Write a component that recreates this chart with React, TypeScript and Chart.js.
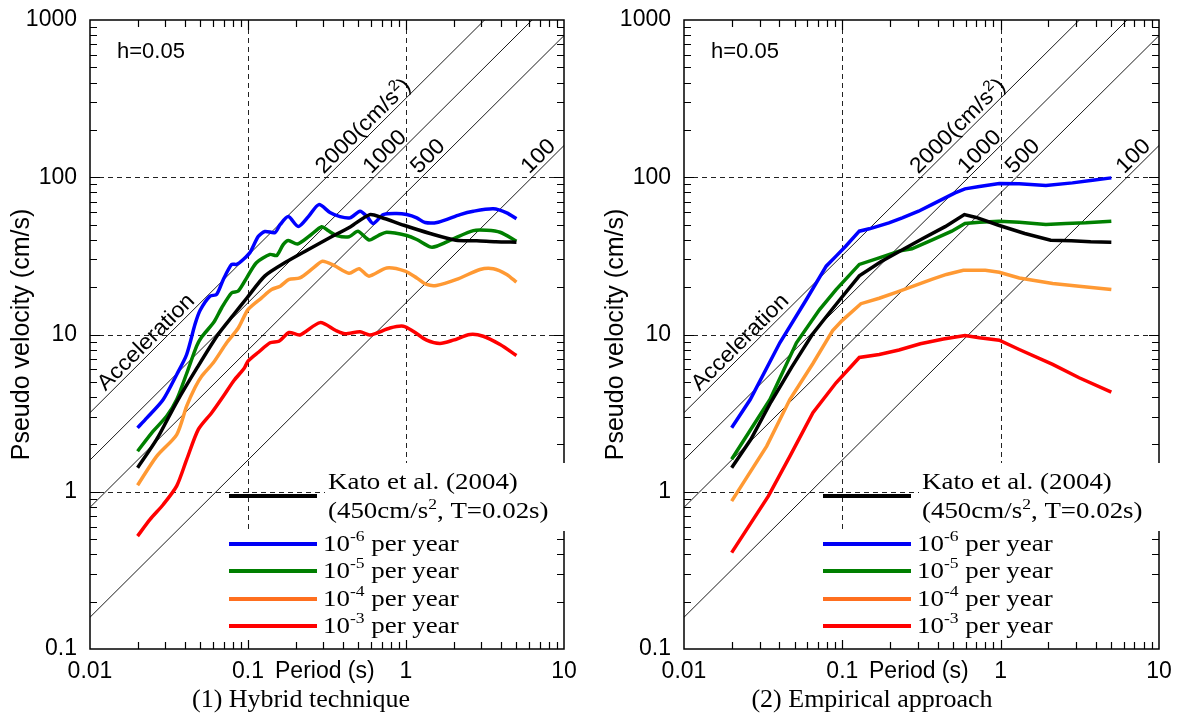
import React, { useEffect, useRef } from "react";
import { Chart, registerables } from "chart.js";
Chart.register(...registerables);

// ---------- axes ----------
const periodTicks = [0.01, 0.1, 1, 10];
const velocityTicks = [0.1, 1, 10, 100, 1000];
const accelerationLevels = [2000, 1000, 500, 100];

// ---------- Kato et al. (2004) (same in both panels) ----------
const katoPeriods = [0.02, 0.0264, 0.0354, 0.0479, 0.0646, 0.0807, 0.0981, 0.128, 0.175, 0.238, 0.318, 0.446, 0.59, 0.70, 0.97, 1.42, 2.07, 2.8, 3.7, 5.0];
const katoVelocities = [1.42, 2.15, 3.72, 6.2, 10.0, 13.3, 17.0, 23.6, 29.0, 34.5, 40.5, 48.5, 57.9, 55.5, 49.5, 43.9, 39.8, 39.5, 38.9, 38.6];

// ---------- (1) Hybrid technique ----------
const hybrid6Periods = [0.02, 0.0229, 0.029, 0.0354, 0.0409, 0.0462, 0.0497, 0.0574, 0.0633, 0.0698, 0.0788, 0.0848, 0.0933, 0.103, 0.116, 0.128, 0.148, 0.160, 0.180, 0.208, 0.241, 0.281, 0.330, 0.382, 0.442, 0.512, 0.567, 0.621, 0.718, 0.873, 1.01, 1.17, 1.32, 1.60, 2.20, 2.67, 3.57, 4.34, 5.0];
const hybrid6Velocities = [2.55, 2.95, 3.85, 5.57, 7.46, 11.6, 14.2, 17.5, 18.0, 22.4, 27.9, 27.9, 30.0, 33.2, 42.0, 45.2, 44.5, 50.1, 56.2, 48.6, 56.2, 67.0, 59.7, 56.2, 55.2, 60.8, 56.2, 50.8, 57.9, 58.8, 57.9, 55.2, 51.5, 51.8, 57.9, 60.8, 63.0, 59.4, 54.4];

const hybrid5Periods = [0.02, 0.0246, 0.0306, 0.0354, 0.0409, 0.0473, 0.0509, 0.0609, 0.0682, 0.0788, 0.0868, 0.0981, 0.113, 0.138, 0.152, 0.167, 0.180, 0.206, 0.247, 0.293, 0.321, 0.364, 0.436, 0.497, 0.583, 0.668, 0.755, 1.01, 1.17, 1.42, 1.56, 1.99, 2.67, 3.24, 3.94, 5.0];
const hybrid5Velocities = [1.81, 2.37, 3.03, 3.86, 5.65, 8.43, 9.64, 12.0, 14.8, 18.4, 18.9, 22.9, 28.6, 32.3, 31.8, 37.3, 39.6, 37.6, 42.6, 48.4, 45.8, 42.6, 41.8, 45.4, 39.9, 42.6, 44.7, 42.6, 40.2, 36.1, 36.4, 40.6, 45.8, 46.0, 44.7, 39.2];

const hybrid4Periods = [0.02, 0.0264, 0.0354, 0.0409, 0.0462, 0.0509, 0.0603, 0.0733, 0.0868, 0.100, 0.122, 0.141, 0.160, 0.182, 0.213, 0.259, 0.296, 0.350, 0.436, 0.504, 0.583, 0.755, 0.986, 1.17, 1.35, 1.56, 2.09, 2.94, 3.57, 4.34, 5.0];
const hybrid4Velocities = [1.10, 1.68, 2.31, 3.50, 4.60, 5.43, 6.61, 8.86, 11.0, 14.4, 17.1, 19.3, 20.3, 22.4, 22.9, 26.5, 29.2, 27.5, 24.5, 26.2, 23.5, 26.5, 25.3, 22.9, 20.8, 20.5, 22.4, 25.9, 26.2, 24.1, 21.5];

const hybrid3Periods = [0.02, 0.0240, 0.0291, 0.0354, 0.0409, 0.0485, 0.0589, 0.0698, 0.0815, 0.0944, 0.100, 0.117, 0.138, 0.157, 0.182, 0.213, 0.286, 0.360, 0.411, 0.512, 0.592, 0.792, 0.962, 1.11, 1.35, 1.64, 1.99, 2.54, 3.08, 3.94, 5.0];
const hybrid3Velocities = [0.522, 0.667, 0.830, 1.09, 1.60, 2.49, 3.18, 4.05, 5.10, 6.08, 6.77, 7.74, 8.86, 9.06, 10.3, 9.93, 11.9, 10.6, 10.1, 10.4, 9.93, 11.0, 11.3, 10.5, 9.20, 8.77, 9.20, 10.0, 9.75, 8.63, 7.35];

// ---------- (2) Empirical approach ----------
const empirical6Periods = [0.02, 0.0262, 0.0403, 0.0593, 0.0791, 0.0913, 0.105, 0.128, 0.148, 0.197, 0.239, 0.303, 0.367, 0.446, 0.515, 0.595, 0.734, 0.98, 1.31, 1.93, 2.84, 3.80, 5.0];
const empirical6Velocities = [2.55, 3.86, 8.86, 16.7, 27.2, 31.5, 36.4, 45.4, 47.0, 51.3, 55.2, 60.8, 67.0, 73.9, 79.6, 84.4, 87.3, 91.2, 90.8, 88.5, 92.1, 95.7, 99.1];

const empirical5Periods = [0.02, 0.0349, 0.0513, 0.0718, 0.0913, 0.128, 0.171, 0.228, 0.275, 0.367, 0.491, 0.595, 0.734, 0.98, 1.31, 1.93, 2.58, 3.45, 5.0];
const empirical5Velocities = [1.61, 3.86, 8.86, 14.4, 19.3, 27.9, 30.7, 33.9, 35.1, 39.8, 45.4, 50.8, 51.8, 52.5, 51.8, 50.1, 50.8, 51.3, 52.5];

const empirical4Periods = [0.02, 0.0333, 0.0466, 0.0652, 0.0869, 0.100, 0.131, 0.171, 0.221, 0.289, 0.367, 0.454, 0.581, 0.80, 0.98, 1.31, 2.13, 3.13, 5.0];
const empirical4Velocities = [0.871, 1.95, 3.86, 6.54, 10.6, 12.3, 15.7, 17.0, 18.6, 20.5, 22.4, 24.1, 25.6, 25.6, 24.9, 22.9, 21.1, 20.3, 19.3];

const empirical3Periods = [0.02, 0.0341, 0.0466, 0.0652, 0.0913, 0.128, 0.171, 0.228, 0.311, 0.435, 0.595, 0.734, 0.98, 1.31, 2.13, 3.13, 5.0];
const empirical3Velocities = [0.41, 0.938, 1.68, 3.18, 4.93, 7.14, 7.46, 7.97, 8.74, 9.36, 9.86, 9.53, 9.20, 8.03, 6.45, 5.31, 4.30];

// ---------- styling ----------
const curveColors = ["#000000", "#0000ff", "#008000", "#ff9933", "#ff0000"];
const legendColors = ["#000000", "#0000f5", "#007f00", "#ff6f1f", "#ff0000"];
const legendExponents = ["-6", "-5", "-4", "-3"];
const SANS = '"Liberation Sans", Arial, Helvetica, sans-serif';
const SERIF = '"Liberation Serif", "Times New Roman", serif';

type Seg = { t: string; sup?: boolean };

function drawRich(ctx: CanvasRenderingContext2D, segs: Seg[], x: number, y: number, size: number, family: string, sx = 1) {
  ctx.save();
  ctx.translate(x, y);
  ctx.scale(sx, 1);
  ctx.textAlign = "left";
  ctx.textBaseline = "alphabetic";
  let cx = 0;
  for (const s of segs) {
    const fs = s.sup ? Math.round(size * 0.66) : size;
    ctx.font = `${fs}px ${family}`;
    ctx.fillText(s.t, cx, s.sup ? -size * 0.4 : 0);
    cx += ctx.measureText(s.t).width;
  }
  ctx.restore();
}

function makeAnnotations(caption: string, captionX: number) {
  return {
    id: "annotations",
    beforeDatasetsDraw(chart: any) {
      const { ctx, chartArea: a, scales } = chart;
      const xs = scales.x;
      const ys = scales.y;
      ctx.save();
      ctx.strokeStyle = "#222";
      ctx.lineWidth = 1;
      ctx.setLineDash([5, 4]);
      for (const v of [0.1, 1]) {
        const px = Math.round(xs.getPixelForValue(v)) + 0.5;
        ctx.beginPath(); ctx.moveTo(px, a.top); ctx.lineTo(px, a.bottom); ctx.stroke();
      }
      for (const v of [1, 10, 100]) {
        const py = Math.round(ys.getPixelForValue(v)) + 0.5;
        ctx.beginPath(); ctx.moveTo(a.left, py); ctx.lineTo(a.right, py); ctx.stroke();
      }
      ctx.setLineDash([]);
      ctx.strokeStyle = "#000";
      ctx.lineWidth = 1.2;
      for (let d = 0.01; d < 10; d *= 10) {
        for (let m = 1; m <= 9; m++) {
          const v = d * m;
          if (v <= 0.0100001 || v >= 9.9999) continue;
          const len = m === 1 ? 10 : 7;
          const px = Math.round(xs.getPixelForValue(v)) + 0.5;
          ctx.beginPath();
          ctx.moveTo(px, a.bottom); ctx.lineTo(px, a.bottom - len);
          ctx.moveTo(px, a.top); ctx.lineTo(px, a.top + len);
          ctx.stroke();
        }
      }
      for (let d = 0.1; d < 1000; d *= 10) {
        for (let m = 1; m <= 9; m++) {
          const v = d * m;
          if (v <= 0.100001 || v >= 999.99) continue;
          const len = m === 1 ? 10 : 7;
          const py = Math.round(ys.getPixelForValue(v)) + 0.5;
          ctx.beginPath();
          ctx.moveTo(a.left, py); ctx.lineTo(a.left + len, py);
          ctx.moveTo(a.right, py); ctx.lineTo(a.right - len, py);
          ctx.stroke();
        }
      }
      ctx.lineWidth = 1.5;
      ctx.strokeRect(a.left, a.top, a.right - a.left, a.bottom - a.top);
      ctx.restore();
    },
    afterDatasetsDraw(chart: any) {
      const { ctx, chartArea: a, scales } = chart;
      const xs = scales.x;
      const ys = scales.y;
      ctx.save();
      ctx.fillStyle = "#000";

      drawRich(ctx, [{ t: "h=0.05" }], a.left + 27, a.top + 38, 22, SANS);

      const lineLabel = (acc: number, T: number, segs: Seg[], back: number, perp: number) => {
        const p1x = xs.getPixelForValue(T);
        const p1y = ys.getPixelForValue((acc * T) / (2 * Math.PI));
        const p2x = xs.getPixelForValue(T * 2);
        const p2y = ys.getPixelForValue((acc * T * 2) / (2 * Math.PI));
        const th = Math.atan2(p2y - p1y, p2x - p1x);
        const ux = Math.cos(th), uy = Math.sin(th);
        const nx = Math.sin(th), ny = -Math.cos(th);
        const ax = p1x - back * ux + perp * nx;
        const ay = p1y - back * uy + perp * ny;
        ctx.save();
        ctx.translate(ax, ay);
        ctx.rotate(th);
        drawRich(ctx, segs, 0, 0, 22, SANS, 1.05);
        ctx.restore();
      };
      lineLabel(2000, 0.0128, [{ t: "Acceleration" }], -2, 4);
      const labelTexts: Seg[][] = [
        [{ t: "2000(cm/s" }, { t: "2", sup: true }, { t: ")" }],
        [{ t: "1000" }],
        [{ t: "500" }],
        [{ t: "100" }],
      ];
      accelerationLevels.forEach((acc, i) => {
        const T = (100 * 2 * Math.PI) / acc;
        lineLabel(acc, T, labelTexts[i], 0, 4);
      });

      ctx.save();
      ctx.translate(a.left - 68, (a.top + a.bottom) / 2);
      ctx.rotate(-Math.PI / 2);
      ctx.font = `25px ${SANS}`;
      ctx.textAlign = "center";
      ctx.textBaseline = "middle";
      ctx.fillText("Pseudo velocity (cm/s)", 0, 0);
      ctx.restore();

      ctx.font = `23px ${SANS}`;
      ctx.textAlign = "left";
      ctx.textBaseline = "middle";
      ctx.fillText("Period (s)", a.left + 185, a.bottom + 22.5);

      ctx.font = `26px ${SERIF}`;
      ctx.textAlign = "center";
      ctx.textBaseline = "alphabetic";
      ctx.fillText(caption, captionX, a.bottom + 58);

      // legend backgrounds
      const T0 = a.top;
      ctx.fillStyle = "#fff";
      ctx.fillRect(a.left + 235, T0 + 443, a.right + 4 - (a.left + 235), 68);
      ctx.fillRect(a.left + 134, T0 + 511, 240, 109);

      const rowsY = [476, 524, 551, 579, 606];
      ctx.lineWidth = 4;
      ctx.lineCap = "butt";
      rowsY.forEach((ry, i) => {
        ctx.strokeStyle = legendColors[i];
        ctx.beginPath();
        ctx.moveTo(a.left + 139, T0 + ry);
        ctx.lineTo(a.left + 227, T0 + ry);
        ctx.stroke();
      });
      ctx.fillStyle = "#000";
      drawRich(ctx, [{ t: "Kato et al. (2004)" }], a.left + 238, T0 + 469, 23, SERIF, 1.17);
      drawRich(ctx, [{ t: "(450cm/s" }, { t: "2", sup: true }, { t: ", T=0.02s)" }], a.left + 238, T0 + 498, 23, SERIF, 1.17);
      legendExponents.forEach((e, i) => {
        drawRich(ctx, [{ t: "10" }, { t: e, sup: true }, { t: " per year" }], a.left + 233, T0 + rowsY[i + 1] + 6.5, 23, SERIF, 1.17);
      });
      ctx.restore();
    },
  };
}

type PanelProps = {
  left: number;
  width: number;
  rightPad: number;
  caption: string;
  captionX: number;
  periods: number[][];
  values: number[][];
  tension: number;
};

function Panel({ left, width, rightPad, caption, captionX, periods, values, tension }: PanelProps) {
  const ref = useRef<HTMLCanvasElement | null>(null);
  useEffect(() => {
    if (!ref.current) return;
    const curves = periods.map((ps, i) => ({
      data: ps.map((p, j) => ({ x: p, y: values[i][j] })),
      borderColor: curveColors[i],
      backgroundColor: curveColors[i],
      borderWidth: 3.5,
      pointRadius: 0,
      tension,
      fill: false,
    }));
    const diagonals = accelerationLevels.map((acc) => ({
      data: [0.01, 10].map((T) => ({ x: T, y: (acc * T) / (2 * Math.PI) })),
      borderColor: "#000",
      borderWidth: 0.9,
      pointRadius: 0,
      tension: 0,
      fill: false,
    }));
    const tickFont = { family: SANS, size: 23 };
    const chart = new Chart(ref.current, {
      type: "line",
      data: { datasets: [...curves, ...diagonals] as any },
      options: {
        animation: false,
        responsive: false,
        devicePixelRatio: 1,
        layout: { padding: { left: 0, top: 20, right: rightPad, bottom: 0 } },
        plugins: { legend: { display: false }, tooltip: { enabled: false }, title: { display: false } },
        scales: {
          x: {
            type: "logarithmic",
            position: "bottom",
            min: 0.01,
            max: 10,
            grid: { display: false, drawTicks: false },
            border: { display: false },
            ticks: {
              autoSkip: false,
              maxRotation: 0,
              padding: 9,
              color: "#000",
              font: tickFont,
              callback: (v: any) => (periodTicks.includes(Number(v)) ? String(v) : ""),
            },
            afterBuildTicks: (s: any) => {
              s.ticks = periodTicks.map((v) => ({ value: v }));
            },
            afterFit: (s: any) => {
              s.height = 68;
              s.paddingLeft = 0;
              s.paddingRight = 0;
            },
          },
          y: {
            type: "logarithmic",
            position: "left",
            min: 0.1,
            max: 1000,
            grid: { display: false, drawTicks: false },
            border: { display: false },
            ticks: {
              autoSkip: false,
              padding: 13,
              color: "#000",
              font: tickFont,
              callback: (v: any) => (velocityTicks.includes(Number(v)) ? String(v) : ""),
            },
            afterBuildTicks: (s: any) => {
              s.ticks = velocityTicks.map((v) => ({ value: v }));
            },
            afterFit: (s: any) => {
              s.width = 90;
              s.paddingTop = 0;
              s.paddingBottom = 0;
            },
          },
        },
      } as any,
      plugins: [makeAnnotations(caption, captionX)],
    });
    return () => chart.destroy();
  }, []);
  return (
    <canvas
      ref={ref}
      width={width}
      height={717}
      style={{ position: "absolute", left, top: 0, width, height: 717 }}
    />
  );
}

export default function App() {
  return (
    <div style={{ position: "absolute", left: 0, top: 0, width: 1179, height: 717, background: "#fff" }}>
      <Panel
        left={0}
        width={590}
        rightPad={26}
        caption="(1) Hybrid technique"
        captionX={301}
        periods={[katoPeriods, hybrid6Periods, hybrid5Periods, hybrid4Periods, hybrid3Periods]}
        values={[katoVelocities, hybrid6Velocities, hybrid5Velocities, hybrid4Velocities, hybrid3Velocities]}
        tension={0.25}
      />
      <Panel
        left={594}
        width={585}
        rightPad={20}
        caption="(2) Empirical approach"
        captionX={278}
        periods={[katoPeriods, empirical6Periods, empirical5Periods, empirical4Periods, empirical3Periods]}
        values={[katoVelocities, empirical6Velocities, empirical5Velocities, empirical4Velocities, empirical3Velocities]}
        tension={0}
      />
    </div>
  );
}
